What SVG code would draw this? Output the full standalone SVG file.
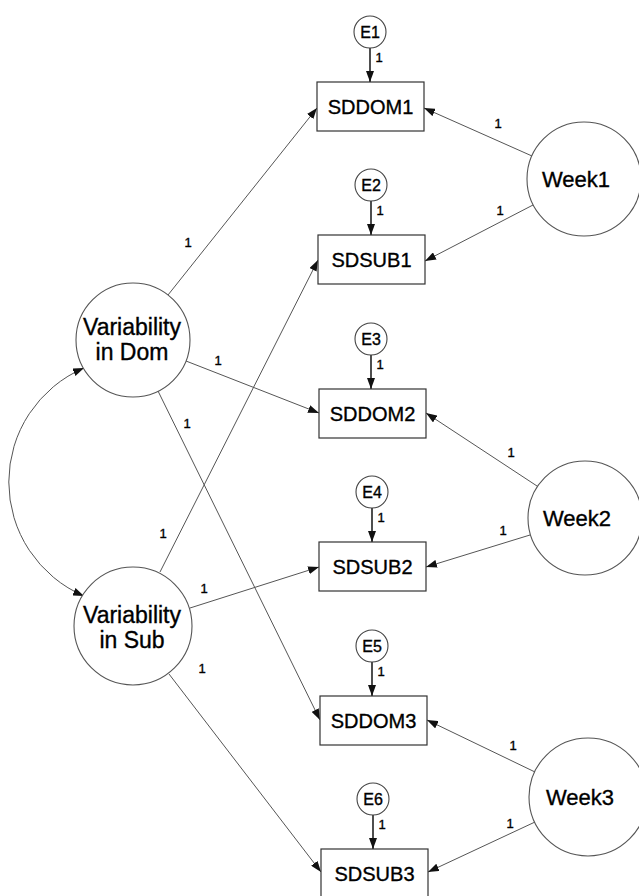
<svg xmlns="http://www.w3.org/2000/svg" width="639" height="896" viewBox="0 0 639 896">
  <style>
    .obs { fill: #ffffff; stroke: #333333; stroke-width: 1.2; }
    .lat { fill: #ffffff; stroke: #555555; stroke-width: 1.1; }
    .err { fill: #ffffff; stroke: #444444; stroke-width: 1.1; }
    .path { fill: none; stroke: #555555; stroke-width: 1; marker-end: url(#arrow); }
    .epath { fill: none; stroke: #222222; stroke-width: 1.6; marker-end: url(#arrow); }
    .cov { fill: none; stroke: #555555; stroke-width: 1; marker-start: url(#arrow); marker-end: url(#arrow); }
    text { font-family: "Liberation Sans", Arial, sans-serif; fill: #000000; stroke: #000000; stroke-width: 0.35; text-anchor: middle; }
    .t-box { font-size: 20px; }
    .t-lat { font-size: 23px; }
    .t-week { font-size: 22px; }
    .t-err { font-size: 16px; }
    .t-one { font-size: 13px; }
  </style>
  <defs>
    <marker id="arrow" markerUnits="userSpaceOnUse" markerWidth="11" markerHeight="8" refX="11" refY="4" orient="auto-start-reverse">
      <path d="M0,0 L11,4 L0,8 z" fill="#111111" stroke="none"/>
    </marker>
  </defs>

  <!-- connectors -->
  <g id="connectors">
    <!-- latent variability factors to indicators -->
    <path class="path" d="M168,295 L317,108"/>
    <path class="path" d="M186,361 L319,413"/>
    <path class="path" d="M158,391 L320,720"/>
    <path class="path" d="M160,572 L318,260"/>
    <path class="path" d="M190,608 L319,567"/>
    <path class="path" d="M169,674 L321,872"/>
    <!-- covariance between the two variability factors -->
    <path class="cov" d="M84,368 A124,124 0 0 0 84,596"/>
    <!-- week factors to indicators -->
    <path class="path" d="M532,156 L424,108"/>
    <path class="path" d="M533,205 L425,261"/>
    <path class="path" d="M537,486 L426,413"/>
    <path class="path" d="M530,535 L426,567"/>
    <path class="path" d="M535,772 L427,720"/>
    <path class="path" d="M535,822 L428,872"/>
    <!-- error terms -->
    <path class="epath" d="M370,48 L370,82"/>
    <path class="epath" d="M371,201 L371,235"/>
    <path class="epath" d="M371,355 L371,389"/>
    <path class="epath" d="M372,508 L372,542"/>
    <path class="epath" d="M372,662 L372,696"/>
    <path class="epath" d="M373,815 L373,849"/>
    <!-- path coefficients -->
    <text class="t-one" x="188" y="247">1</text>
    <text class="t-one" x="218" y="365">1</text>
    <text class="t-one" x="187" y="428">1</text>
    <text class="t-one" x="163" y="538">1</text>
    <text class="t-one" x="204" y="593">1</text>
    <text class="t-one" x="202" y="673">1</text>
    <text class="t-one" x="498" y="128">1</text>
    <text class="t-one" x="500" y="215">1</text>
    <text class="t-one" x="511" y="457">1</text>
    <text class="t-one" x="503" y="535">1</text>
    <text class="t-one" x="513" y="750">1</text>
    <text class="t-one" x="510" y="828">1</text>
    <text class="t-one" x="379" y="62">1</text>
    <text class="t-one" x="380" y="215">1</text>
    <text class="t-one" x="380" y="369">1</text>
    <text class="t-one" x="381" y="522">1</text>
    <text class="t-one" x="381" y="676">1</text>
    <text class="t-one" x="382" y="829">1</text>
  </g>

  <!-- error terms -->
  <g id="E1"><circle class="err" cx="370" cy="32" r="16"/><text class="t-err" x="370" y="38">E1</text></g>
  <g id="E2"><circle class="err" cx="371" cy="185" r="16"/><text class="t-err" x="371" y="191">E2</text></g>
  <g id="E3"><circle class="err" cx="371" cy="339" r="16"/><text class="t-err" x="371" y="345">E3</text></g>
  <g id="E4"><circle class="err" cx="372" cy="492" r="16"/><text class="t-err" x="372" y="498">E4</text></g>
  <g id="E5"><circle class="err" cx="372" cy="646" r="16"/><text class="t-err" x="372" y="652">E5</text></g>
  <g id="E6"><circle class="err" cx="373" cy="799" r="16"/><text class="t-err" x="373" y="805">E6</text></g>

  <!-- observed indicators -->
  <g id="SDDOM1"><rect class="obs" x="317" y="82" width="107" height="49"/><text class="t-box" x="370.5" y="113.5">SDDOM1</text></g>
  <g id="SDSUB1"><rect class="obs" x="318" y="235" width="107" height="49"/><text class="t-box" x="371.5" y="266.5">SDSUB1</text></g>
  <g id="SDDOM2"><rect class="obs" x="319" y="389" width="107" height="49"/><text class="t-box" x="372.5" y="420.5">SDDOM2</text></g>
  <g id="SDSUB2"><rect class="obs" x="319" y="542" width="107" height="49"/><text class="t-box" x="372.5" y="573.5">SDSUB2</text></g>
  <g id="SDDOM3"><rect class="obs" x="320" y="696" width="107" height="49"/><text class="t-box" x="373.5" y="727.5">SDDOM3</text></g>
  <g id="SDSUB3"><rect class="obs" x="321" y="849" width="107" height="49"/><text class="t-box" x="374.5" y="880.5">SDSUB3</text></g>

  <!-- variability factors -->
  <g id="VarDom">
    <circle class="lat" cx="133" cy="340" r="57"/>
    <text class="t-lat" x="132" y="335">Variability</text>
    <text class="t-lat" x="132" y="360">in Dom</text>
  </g>
  <g id="VarSub">
    <circle class="lat" cx="133" cy="626" r="59"/>
    <text class="t-lat" x="132" y="623">Variability</text>
    <text class="t-lat" x="132" y="648">in Sub</text>
  </g>

  <!-- week factors -->
  <g id="Week1"><circle class="lat" cx="584" cy="179" r="57"/><text class="t-week" x="576" y="187">Week1</text></g>
  <g id="Week2"><circle class="lat" cx="585" cy="518" r="57"/><text class="t-week" x="577" y="526">Week2</text></g>
  <g id="Week3"><circle class="lat" cx="588" cy="797" r="59"/><text class="t-week" x="580" y="805">Week3</text></g>
</svg>
